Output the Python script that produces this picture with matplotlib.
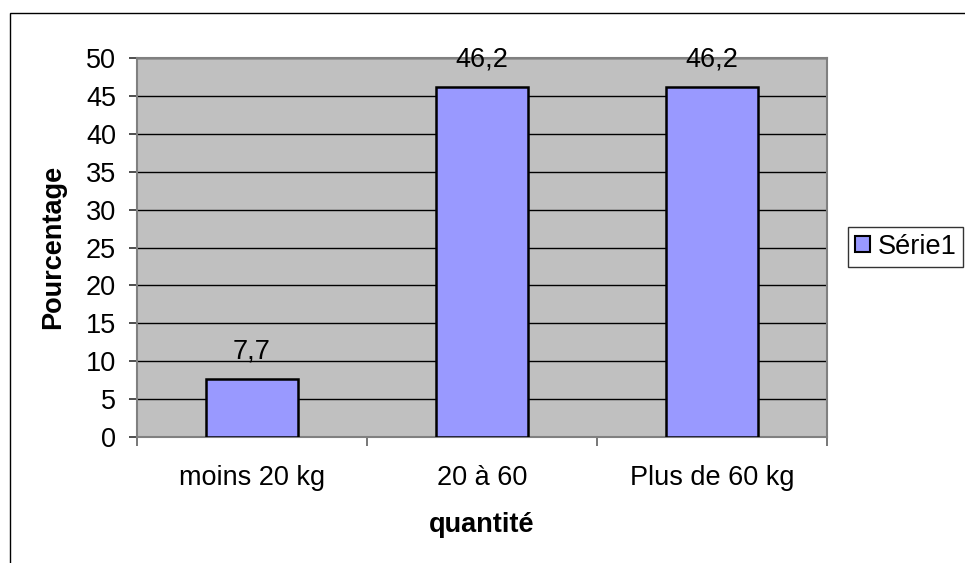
import matplotlib.pyplot as plt
import numpy as np
from matplotlib.patches import Rectangle

plt.rcParams['font.family'] = ['Liberation Sans', 'DejaVu Sans']

categories = ["moins 20 kg", "20 à 60", "Plus de 60 kg"]
values = [7.7, 46.2, 46.2]
value_labels = ["7,7", "46,2", "46,2"]
series_name = "Série1"

W, H = 965, 563
FS = 19.5
fig = plt.figure(figsize=(W / 100, H / 100), dpi=100)

# outer chart border (only left/top visible in the reference)
fig.patches.append(Rectangle((10 / W, -0.1), 1.2, 1 - 13 / H + 0.1, transform=fig.transFigure,
                             fill=False, edgecolor="black", linewidth=1))

left, right, top, bottom = 137, 827, 58, 437
ax = fig.add_axes([left / W, 1 - bottom / H, (right - left) / W, (bottom - top) / H])
ax.set_facecolor("#C0C0C0")

x = np.arange(len(categories))
ax.bar(x, values, width=0.4, color="#9999FF", edgecolor="black", linewidth=1.8,
       label=series_name, zorder=3)
for xi, v, lab in zip(x, values, value_labels):
    ax.annotate(lab, (xi, v), xytext=(0, 14.5), textcoords="offset points",
                ha="center", va="baseline", fontsize=FS)

ax.set_xlim(-0.5, len(categories) - 0.5)
ax.set_ylim(0, 50)
ax.set_yticks(np.arange(0, 51, 5))
ax.yaxis.grid(True, color="black", linewidth=1, zorder=1)
ax.set_axisbelow(True)

ax.set_xticks(np.arange(-0.5, len(categories), 1))
ax.set_xticklabels([])
ax.set_xticks(x, minor=True)
ax.set_xticklabels(categories, minor=True, fontsize=FS)
ax.tick_params(axis="x", which="minor", length=0, pad=20)
ax.tick_params(axis="x", which="major", length=6.5, width=1.2, direction="out", color="#606060")
ax.tick_params(axis="y", length=6, width=1.2, direction="out", color="#303030",
               labelsize=FS, pad=9)

for s in ax.spines.values():
    s.set_color("#808080")
    s.set_linewidth(1.5)

fig.text(53 / W, 1 - 247 / H, "Pourcentage", rotation=90, ha="center", va="center",
         fontsize=FS, fontweight="bold")
fig.text(482 / W, 1 - 532 / H, "quantité", ha="center", va="baseline",
         fontsize=FS, fontweight="bold")

leg = fig.legend(loc="upper left", bbox_to_anchor=(848 / W, 1 - 227 / H), fontsize=FS,
                 frameon=True, fancybox=False, edgecolor="black", handlelength=0.55,
                 handleheight=0.55, handletextpad=0.3, borderpad=0.25, borderaxespad=0)
leg.get_frame().set_linewidth(1)
for p in leg.get_patches():
    p.set_linewidth(1.5)

fig.savefig("out.png", dpi=100)
